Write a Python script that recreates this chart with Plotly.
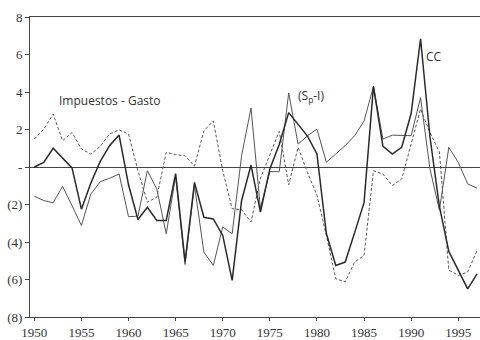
import plotly.graph_objects as go

years = list(range(1950, 1998))

cc = [0.0, 0.25, 1.0, 0.5, -0.05, -2.25, -0.85, 0.3, 1.15, 1.7,
      -0.95, -2.8, -2.15, -2.85, -2.85, -0.35, -5.05, -0.82, -2.68, -2.77,
      -3.65, -6.05, -1.8, 0.1, -2.4, -0.1, 1.2, 2.9, 2.3, 1.65,
      0.7, -3.55, -5.25, -5.07, -3.5, -1.9, 4.3, 1.12, 0.69, 1.05,
      2.85, 6.84, 1.6, -2.1, -4.5, -5.5, -6.5, -5.7]

sp_i = [-1.56, -1.79, -1.91, -1.03, -2.06, -3.12, -1.44, -0.78, -0.6, -0.37,
        -2.65, -2.62, -0.2, -1.17, -3.56, -0.5, -5.2, -0.99, -4.54, -5.25,
        -3.2, -3.56, 0.6, 3.15, -2.2, -0.25, -0.25, 3.95, 1.22, 1.67,
        2.02, 0.25, 0.7, 1.14, 1.67, 2.45, 4.3, 1.49, 1.7, 1.7,
        1.67, 3.7, -0.1, -2.3, 1.05, 0.25, -0.9, -1.13]

t_g = [1.49, 2.02, 2.82, 1.4, 1.84, 0.96, 0.69, 1.1, 1.76, 1.98,
       1.76, -0.2, -1.88, -1.61, 0.78, 0.66, 0.6, 0.04, 1.93, 2.46,
       -0.2, -2.23, -2.27, -2.94, -0.6, 0.6, 1.9, -0.95, 1.05, -0.3,
       -1.5, -3.65, -5.96, -6.13, -5.07, -4.72, -0.2, -0.37, -0.99, -0.64,
       1.3, 3.09, 1.84, 0.8, -5.5, -5.78, -5.6, -4.45]

ytick_vals = [-8, -6, -4, -2, 0, 2, 4, 6, 8]
ytick_text = ["(8)", "(6)", "(4)", "(2)", "-", "2", "4", "6", "8"]
xtick_vals = [1950, 1955, 1960, 1965, 1970, 1975, 1980, 1985, 1990, 1995]

fig = go.Figure()
fig.add_trace(go.Scatter(x=years, y=t_g, mode="lines", name="Impuestos - Gasto",
                         line=dict(color="#555555", width=1, dash="3px,2px")))
fig.add_trace(go.Scatter(x=years, y=sp_i, mode="lines", name="(Sp-I)",
                         line=dict(color="#555555", width=1)))
fig.add_trace(go.Scatter(x=years, y=cc, mode="lines", name="CC",
                         line=dict(color="#2a2a2a", width=1.5)))

ann_font = dict(family="Open Sans", size=12, color="#333333")
fig.add_annotation(x=1958.0, y=3.55, text="Impuestos - Gasto", showarrow=False, font=ann_font)
fig.add_annotation(x=1979.4, y=3.8, text="(S<sub>p</sub>-I)", showarrow=False, font=ann_font)
fig.add_annotation(x=1992.4, y=5.9, text="CC", showarrow=False, font=ann_font)

fig.update_layout(
    width=480, height=340,
    margin=dict(l=30, r=0, t=17, b=21),
    paper_bgcolor="white", plot_bgcolor="white",
    showlegend=False,
    font=dict(family="Liberation Serif", size=13, color="#333333"),
)
fig.update_xaxes(range=[1949.54, 1997.31], tickvals=xtick_vals, showgrid=False,
                 zeroline=False, showline=True, linecolor="#444444", linewidth=1,
                 mirror=True, ticks="outside", ticklen=3, tickcolor="#444444")
fig.update_yaxes(range=[-8, 8], tickvals=ytick_vals, ticktext=ytick_text, showgrid=False,
                 zeroline=True, zerolinecolor="#444444", zerolinewidth=1,
                 showline=True, linecolor="#444444", linewidth=1,
                 ticks="outside", ticklen=4, tickcolor="#444444")

fig.write_html("out.html")
